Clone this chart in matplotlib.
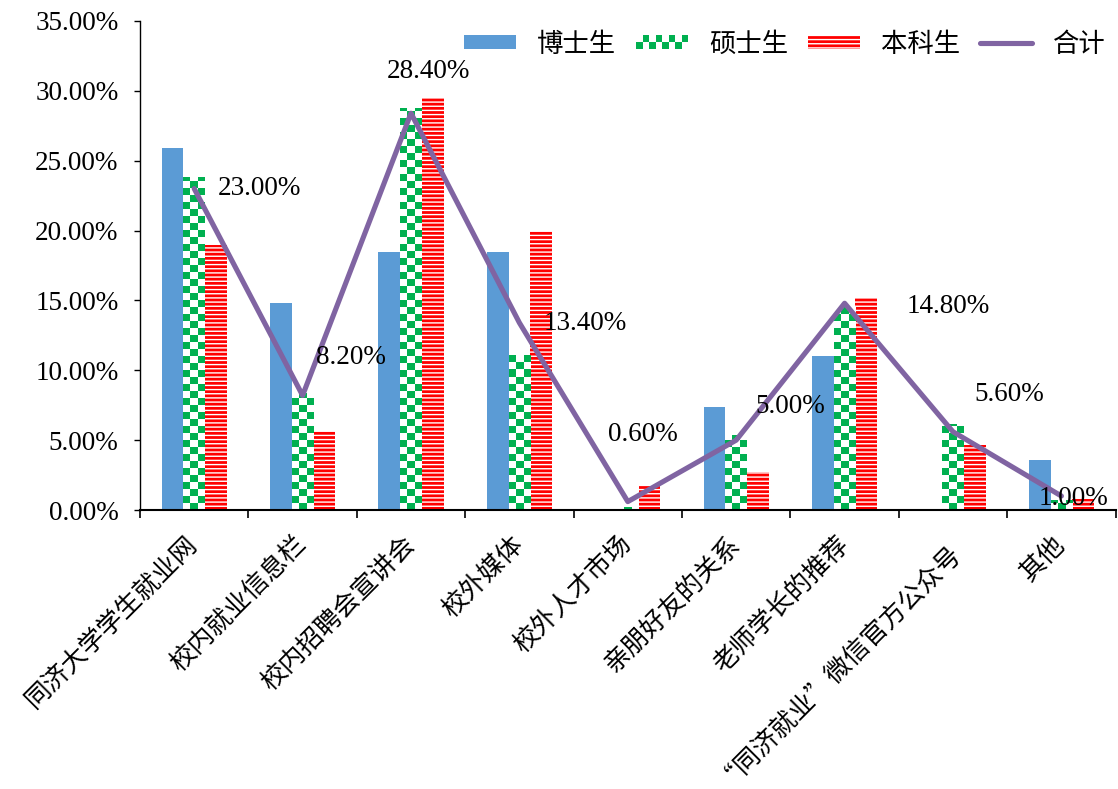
import numpy as np
import matplotlib
matplotlib.use("Agg")
import matplotlib.pyplot as plt
from matplotlib.colors import ListedColormap
from matplotlib.legend_handler import HandlerBase
from matplotlib.patches import Rectangle
from matplotlib.ticker import FuncFormatter

# Data (percent)
categories = [
    "同济大学学生就业网",
    "校内就业信息栏",
    "校内招聘会宣讲会",
    "校外媒体",
    "校外人才市场",
    "亲朋好友的关系",
    "老师学长的推荐",
    "“同济就业”微信官方公众号",
    "其他",
]
series_names = ["博士生", "硕士生", "本科生", "合计"]
phd = [25.9, 14.8, 18.5, 18.5, 0.0, 7.35, 11.05, 0.0, 3.6]
master = [23.85, 8.4, 28.8, 11.1, 0.2, 5.4, 14.55, 6.15, 0.7]
bachelor = [19.0, 5.65, 29.5, 20.0, 1.8, 2.7, 15.2, 4.65, 0.8]
total = [23.0, 8.2, 28.4, 13.4, 0.6, 5.0, 14.8, 5.6, 1.0]
yticks = [0, 5, 10, 15, 20, 25, 30, 35]

# where each data label of the total line sits, relative to its point (pixels)
label_offsets = [(65, 0), (48, 38), (17, 42), (66, -1), (15, 67),
                 (54, 34), (104, -3), (56, 37), (12, -2)]

BLUE = "#5B9BD5"
GREEN = "#00B050"
RED = "#FF0000"
PURPLE = "#8064A2"
NUM_FONT = ["Liberation Serif", "Noto Sans CJK SC"]
CJK_FONT = ["Noto Sans CJK SC", "DejaVu Sans"]


class CheckerHandler(HandlerBase):
    # Draw a small green/white checkerboard as legend key
    def create_artists(self, legend, orig_handle, xdescent, ydescent,
                       width, height, fontsize, trans):
        ncol, nrow = 8, 2
        w, h = width / ncol, height / nrow
        out = []
        for i in range(nrow):
            for j in range(ncol):
                if (i + j) % 2 == 0:
                    out.append(Rectangle((-xdescent + j * w, -ydescent + i * h), w, h,
                                         facecolor=GREEN, edgecolor="none",
                                         transform=trans))
        return out


fig = plt.figure(figsize=(11.18, 7.89), dpi=100)
ax = fig.add_axes([140 / 1118, 1 - 510 / 789, 975.6 / 1118, 489 / 789])

x = np.arange(len(categories)) + 0.5
bw = 0.2

blue_bars = ax.bar(x - bw, phd, bw, color=BLUE, linewidth=0, zorder=2)
green_bars = ax.bar(x, master, bw, color="white", linewidth=0, zorder=2)
red_bars = ax.bar(x + bw, bachelor, bw, color=RED, edgecolor="white",
                  linewidth=0, hatch="----", zorder=2)

# Checkerboard fill for the green bars, clipped to each bar
checker_cmap = ListedColormap(["white", GREEN])
square = 0.5
for patch, h in zip(green_bars.patches, master):
    nrows = max(1, int(np.ceil(h / square)))
    arr = (np.add.outer(np.arange(nrows), np.arange(3)) % 2).astype(float)
    x0 = patch.get_x()
    im = ax.imshow(arr, cmap=checker_cmap, vmin=0, vmax=1, origin="lower",
                   interpolation="nearest", aspect="auto",
                   extent=[x0, x0 + bw, 0, nrows * square], zorder=2.5)
    im.set_clip_path(patch)

(line,) = ax.plot(x, total, color=PURPLE, lw=3.7, zorder=4,
                  solid_capstyle="round")

for xi, v, (dx, dy) in zip(x, total, label_offsets):
    ax.annotate(f"{v:.2f}%", (xi, v), xytext=(dx, dy), textcoords="offset pixels",
                ha="center", va="center", fontsize=19.5, family=NUM_FONT, zorder=5)

ax.set_xlim(0, len(categories))
ax.set_ylim(0, 35)

# Category boundaries carry the tick marks, centres carry the labels
ax.set_xticks(np.arange(len(categories) + 1))
ax.set_xticks(x, categories, minor=True)
ax.tick_params(axis="x", which="major", direction="out", length=5.8, width=1.2,
               labelbottom=False)
ax.tick_params(axis="x", which="minor", length=0, pad=22)
for lab in ax.get_xticklabels(minor=True):
    lab.set_rotation(45)
    lab.set_ha("right")
    lab.set_va("center")
    lab.set_rotation_mode("anchor")
    lab.set_fontsize(18.5)
    lab.set_family(CJK_FONT)

ax.set_yticks(yticks)
ax.yaxis.set_major_formatter(FuncFormatter(lambda v, pos: f"{v:.2f}%"))
ax.tick_params(axis="y", direction="out", length=4.5, width=1.0, pad=11)
for lab in ax.get_yticklabels():
    lab.set_fontsize(19.5)
    lab.set_family(NUM_FONT)

ax.spines["top"].set_visible(False)
ax.spines["right"].set_visible(False)
ax.spines["left"].set_linewidth(1.0)
ax.spines["bottom"].set_linewidth(1.5)

checker_proxy = Rectangle((0, 0), 1, 1)
ax.legend(
    [blue_bars, checker_proxy, red_bars, line],
    series_names,
    handler_map={checker_proxy: CheckerHandler()},
    ncol=4,
    loc="center right",
    bbox_to_anchor=(1106 / 1118, 1 - 44 / 789),
    bbox_transform=fig.transFigure,
    frameon=False,
    borderpad=0,
    borderaxespad=0,
    prop={"family": CJK_FONT, "size": 19},
    handlelength=1.97,
    handleheight=0.45,
    handletextpad=0.8,
    columnspacing=0.75,
)

fig.savefig("out.png", dpi=100)
